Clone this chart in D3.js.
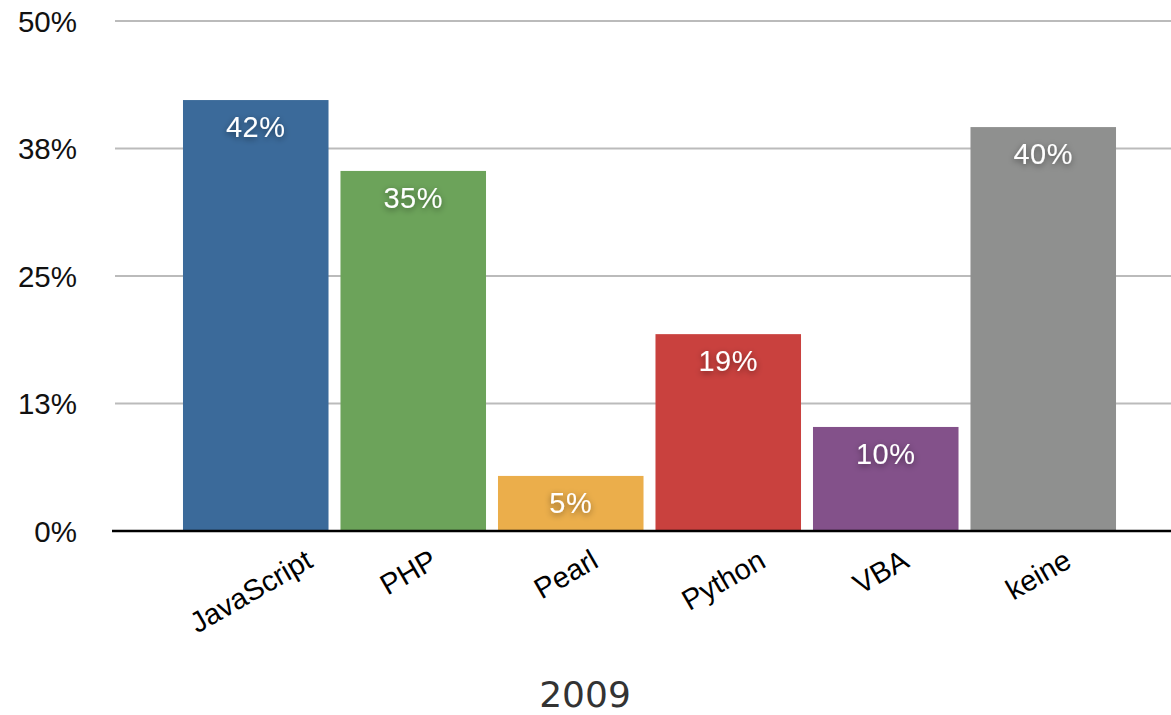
<!DOCTYPE html>
<html>
<head>
<meta charset="utf-8">
<script src="https://cdn.jsdelivr.net/npm/d3@7"></script>
<style>
  html, body { margin: 0; padding: 0; background: #fff; }
  svg { display: block; }
</style>
</head>
<body>
<svg id="chart" width="1171" height="715"></svg>
<script>
const categories = ["JavaScript", "PHP", "Pearl", "Python", "VBA", "keine"];
const values = [42.25, 35.3, 5.4, 19.3, 10.2, 39.6];
const valueLabels = ["42%", "35%", "5%", "19%", "10%", "40%"];
const colors = ["#3b6a9a", "#6ca35a", "#ebae4b", "#c9413e", "#83518a", "#8f908f"];
const yTickValues = [0, 12.5, 25, 37.5, 50];
const yTickLabels = ["0%", "13%", "25%", "38%", "50%"];
const title = "2009";

const svg = d3.select("#chart");
const W = 1171;

const y = d3.scaleLinear().domain([0, 50]).range([531, 21]);
const x = d3.scaleBand().domain(categories).range([177, 1122])
  .paddingInner(0.076).paddingOuter(0.038);

const defs = svg.append("defs");
const f = defs.append("filter").attr("id", "shadow")
  .attr("x", "-30%").attr("y", "-50%").attr("width", "160%").attr("height", "200%");
f.append("feDropShadow").attr("dx", 0).attr("dy", 2).attr("stdDeviation", 3)
  .attr("flood-color", "#000").attr("flood-opacity", 0.45);

// gridlines
svg.append("g").selectAll("line").data(yTickValues).join("line")
  .attr("x1", 115).attr("x2", W)
  .attr("y1", d => y(d)).attr("y2", d => y(d))
  .attr("stroke", "#bbbbbb").attr("stroke-width", 2);

// y tick labels
svg.append("g").selectAll("text").data(yTickValues).join("text")
  .attr("x", 77).attr("y", d => y(d))
  .attr("dy", "0.36em")
  .attr("text-anchor", "end")
  .attr("font-family", "Liberation Sans, Arial, sans-serif")
  .attr("font-size", 29.5)
  .attr("fill", "#111")
  .text((d, i) => yTickLabels[i]);

// bars
svg.append("g").selectAll("rect").data(categories).join("rect")
  .attr("x", d => x(d))
  .attr("width", x.bandwidth())
  .attr("y", (d, i) => y(values[i]))
  .attr("height", (d, i) => y(0) - y(values[i]))
  .attr("fill", (d, i) => colors[i]);

// value labels
svg.append("g").selectAll("text").data(categories).join("text")
  .attr("x", d => x(d) + x.bandwidth() / 2)
  .attr("y", (d, i) => y(values[i]) + 37)
  .attr("text-anchor", "middle")
  .attr("font-family", "Liberation Sans, Arial, sans-serif")
  .attr("font-size", 29)
  .attr("letter-spacing", 0.5)
  .attr("fill", "#fff")
  .attr("filter", "url(#shadow)")
  .text((d, i) => valueLabels[i]);

// x axis line
svg.append("line")
  .attr("x1", 112).attr("x2", W)
  .attr("y1", y(0)).attr("y2", y(0))
  .attr("stroke", "#000").attr("stroke-width", 2.5);

// category labels (rotated)
const lab = svg.append("g").selectAll("text").data(categories).join("text")
  .attr("text-anchor", "middle")
  .attr("font-family", "Liberation Sans, Arial, sans-serif")
  .attr("font-size", 29)
  .attr("fill", "#000")
  .text(d => d);
lab.each(function(d) {
  const w = this.getComputedTextLength();
  const cx = x(d) + x.bandwidth() / 2;
  const cy = 566 + (w / 2) * Math.sin(Math.PI / 6);
  d3.select(this).attr("transform", `translate(${cx},${cy}) rotate(-30)`);
});

// title
svg.append("text")
  .attr("x", 585).attr("y", 707)
  .attr("text-anchor", "middle")
  .attr("font-family", "DejaVu Sans, sans-serif")
  .attr("font-size", 36)
  .attr("fill", "#333")
  .text(title);
</script>
</body>
</html>
